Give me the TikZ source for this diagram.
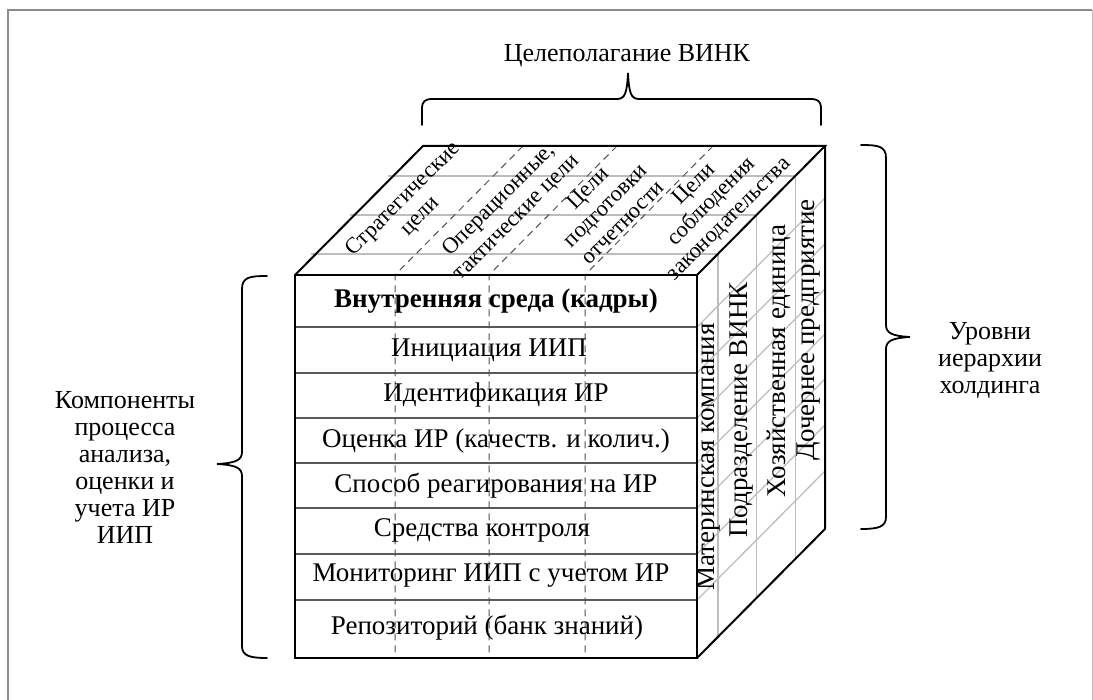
\documentclass[tikz,border=0pt]{standalone}
\usepackage{fontspec}
\setmainfont{Liberation Serif}
\usetikzlibrary{calc}
\definecolor{framegray}{HTML}{8C8C8C}
\definecolor{gridgray}{HTML}{BDBDBD}
\definecolor{rowgray}{HTML}{5A5A5A}
\definecolor{dashgray}{HTML}{505050}
\begin{document}
\begin{tikzpicture}[x=1pt,y=-1pt,
  cubeedge/.style={line width=2pt, line join=miter, black},
  rowline/.style={line width=1.5pt, rowgray},
  gridline/.style={line width=1.3pt, gridgray},
  dashline/.style={line width=1pt, dashgray, dash pattern=on 7pt off 5pt},
  bracepath/.style={line width=1.8pt, black, line cap=round},
  rowtext/.style={font=\fontsize{27}{28}\selectfont, inner sep=0pt},
  toptext/.style={font=\fontsize{22.5}{24.5}\selectfont, align=center, rotate=45, inner sep=0pt},
  sidetext/.style={font=\fontsize{27}{28}\selectfont, rotate=90, inner sep=0pt},
  sidelabel/.style={font=\fontsize{26}{27}\selectfont, align=center, inner sep=0pt}
]
\useasboundingbox (0,0) rectangle (1093,700);

% outer frame
\draw[line width=1.5pt, framegray] (8,702) -- (8,10) -- (1092,10);
\draw[line width=1pt, gridgray] (1092,10) -- (1092,702);

% cube corners
\coordinate (FTL) at (295,275);
\coordinate (FTR) at (697,275);
\coordinate (FBL) at (295,658);
\coordinate (FBR) at (697,658);
\coordinate (BTL) at (423,146);
\coordinate (BTR) at (825,146);
\coordinate (BBR) at (825,529);

% hierarchy levels: lines across the top face, running down the right face
\foreach \t in {0.163,0.465,0.767}{
  \draw[gridline] ($(FTL)!\t!(BTL)+(-5,0)$) -- ($(FTR)!\t!(BTR)$) -- ($(FBR)!\t!(BBR)$);
}

% process rows continued in depth on the right face
\foreach \y in {327,373,418,463,508,554,600}{
  \draw[gridline] (697,\y) -- ++(128,-129);
}

% rows of the front face
\foreach \y in {327,373,418,463,508,554,600}{
  \draw[rowline] (295,\y) -- (697,\y);
}

% goal columns: dashed on the front and top faces
\foreach \x in {395,489,585}{
  \draw[dashline] (\x+128,146) -- (\x,275) -- (\x,658);
}

% cube outline
\draw[cubeedge] (FTL) rectangle (FBR);
\draw[cubeedge] (FTL) -- (BTL) -- (BTR) -- (FTR);
\draw[cubeedge] (BTR) -- (BBR) -- (FBR);

% front face texts
\node[rowtext, font=\fontsize{27}{28}\selectfont\bfseries] (r1) at (496,301) {Внутренняя среда (кадры)};
\node[rowtext] (r2) at (489,350) {Инициация ИИП};
\node[rowtext] (r3) at (496,395.5) {Идентификация ИР};
\node[rowtext] (r4) at (496,441) {Оценка ИР (качеств. и колич.)};
\node[rowtext] (r5) at (496,485.5) {Способ реагирования на ИР};
\node[rowtext] (r6) at (482,530) {Средства контроля};
\node[rowtext] (r7) at (491,576) {Мониторинг ИИП с учетом ИР};
\node[rowtext] (r8) at (487,628) {Репозиторий (банк знаний)};

% top face texts
\node[toptext] (g1) at (412,208) {Стратегические\\цели};
\node[toptext] (g2) at (508,209) {Операционные,\\тактические цели};
\node[toptext] (g3) at (605,205) {Цели\\подготовки\\отчетности};
\node[toptext] (g4) at (712,202) {Цели\\соблюдения\\законодательства};

% right face texts
\node[sidetext] (h1) at (709,457) {Материнская компания};
\node[sidetext] (h2) at (742,410) {Подразделение ВИНК};
\node[sidetext] (h3) at (779,361) {Хозяйственная единица};
\node[sidetext] (h4) at (809,330) {Дочернее предприятие};

% braces
\draw[bracepath] (422,125) -- (422,109) .. controls (422,101) and (425,99) .. (433,99)
  -- (617,99) .. controls (625,99) and (627,93) .. (628,73)
  .. controls (629,93) and (631,99) .. (639,99) -- (810,99)
  .. controls (818,99) and (821,101) .. (821,109) -- (821,125);
\draw[bracepath] (267,276) .. controls (250,276) and (242,277) .. (242,289) -- (242,452)
  .. controls (242,460) and (236,463) .. (217,464)
  .. controls (236,465) and (242,468) .. (242,476) -- (242,646)
  .. controls (242,656) and (250,658) .. (267,658);
\draw[bracepath] (861,145) .. controls (878,145) and (886,146) .. (886,158) -- (886,325)
  .. controls (886,333) and (892,336) .. (910,337)
  .. controls (892,338) and (886,341) .. (886,349) -- (886,517)
  .. controls (886,527) and (878,529) .. (861,529);

% brace labels
\node[sidelabel] (goals) at (627,56) {Целеполагание ВИНК};
\node[sidelabel, text depth=0pt] (comp) at (125,467) {Компоненты\\процесса\\анализа,\\оценки и\\учета ИР\\ИИП};
\node[sidelabel] (levels) at (990,361) {Уровни\\иерархии\\холдинга};
\end{tikzpicture}
\end{document}
